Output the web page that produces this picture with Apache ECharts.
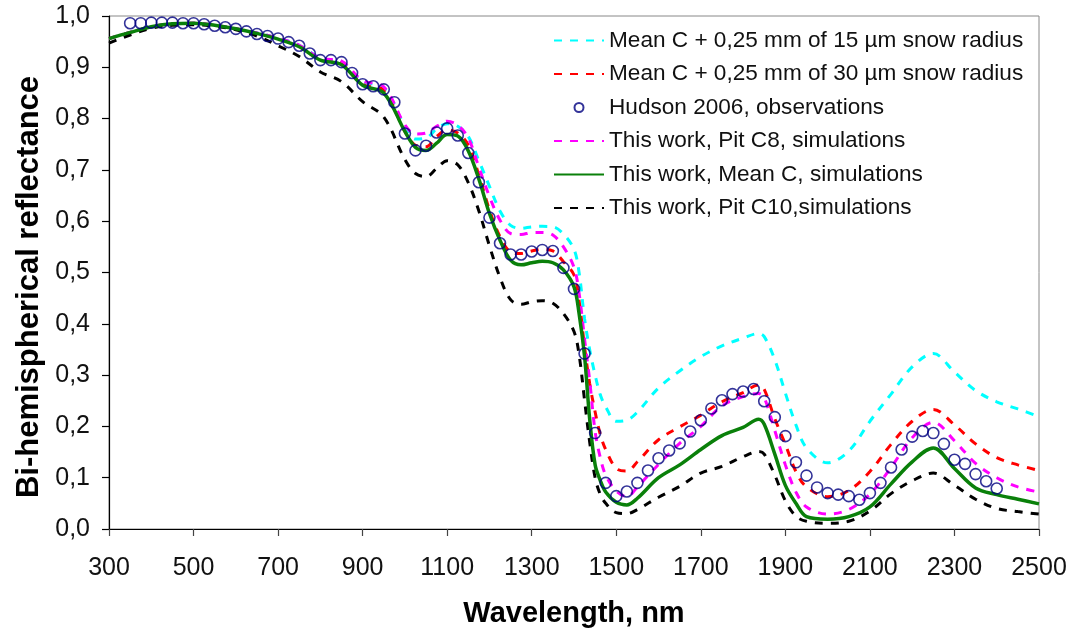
<!DOCTYPE html>
<html>
<head>
<meta charset="utf-8">
<script src="https://cdn.jsdelivr.net/npm/echarts@6/dist/echarts.min.js"></script>
<style>
html,body{margin:0;padding:0;background:#fff;}
#chart{width:1074px;height:635px;}
</style>
</head>
<body>
<div id="chart"></div>
<script>
// ---- Data ----
const xTicks = [300,500,700,900,1100,1300,1500,1700,1900,2100,2300,2500];
const yTicks = [0.0,0.1,0.2,0.3,0.4,0.5,0.6,0.7,0.8,0.9,1.0];

const seriesNames = [
  'Mean C + 0,25 mm of 15 µm snow radius',
  'Mean C + 0,25 mm of 30 µm snow radius',
  'Hudson 2006, observations',
  'This work, Pit C8, simulations',
  'This work, Mean C, simulations',
  'This work, Pit C10,simulations'
];

const simWl = [300,350,400,450,500,550,600,650,700,750,800,850,900,950,
  1000,1025,1050,1075,1100,1125,1150,1175,1200,1225,1250,1275,1300,1325,1350,1375,1400,
  1412,1425,1437,1450,1462,1475,
  1500,1525,1550,
  1600,1650,1700,1750,1800,
  1837,1850,1875,1900,1925,1950,
  2000,2050,2100,2150,2200,2250,2300,2350,2400,2450,2500];

const snow15 = [0.956,0.968,0.979,0.985,0.986,0.982,0.975,0.967,0.957,0.943,0.918,0.910,0.872,0.860,
  0.785,0.760,0.762,0.780,0.790,0.785,0.765,0.718,0.668,0.620,0.592,0.586,0.589,0.590,0.589,0.575,0.545,
  0.500,0.410,0.350,0.300,0.262,0.238,
  0.210,0.212,0.228,
  0.275,0.308,0.336,0.357,0.372,
  0.381,0.375,0.330,0.265,0.203,0.158,
  0.129,0.152,0.210,0.263,0.316,0.342,0.306,0.270,0.248,0.234,0.219];

const snow30 = [0.956,0.968,0.979,0.985,0.986,0.982,0.975,0.966,0.956,0.941,0.915,0.908,0.867,0.855,
  0.775,0.748,0.745,0.765,0.778,0.772,0.748,0.690,0.622,0.570,0.540,0.537,0.542,0.545,0.542,0.521,0.495,
  0.445,0.355,0.284,0.228,0.185,0.155,
  0.118,0.113,0.131,
  0.174,0.199,0.222,0.248,0.266,
  0.281,0.272,0.215,0.165,0.112,0.082,
  0.063,0.075,0.112,0.165,0.210,0.233,0.203,0.166,0.139,0.125,0.114];

const pitC8 = [0.956,0.968,0.979,0.985,0.986,0.982,0.975,0.967,0.957,0.943,0.918,0.912,0.874,0.862,
  0.788,0.770,0.772,0.785,0.795,0.787,0.762,0.705,0.648,0.602,0.576,0.574,0.578,0.578,0.573,0.550,0.510,
  0.460,0.370,0.290,0.190,0.140,0.105,
  0.074,0.063,0.082,
  0.126,0.167,0.200,0.240,0.258,
  0.264,0.256,0.192,0.125,0.072,0.043,
  0.029,0.038,0.068,0.120,0.178,0.208,0.172,0.128,0.100,0.082,0.072];

const meanC = [0.956,0.968,0.979,0.985,0.986,0.982,0.975,0.966,0.955,0.940,0.914,0.905,0.865,0.850,
  0.775,0.744,0.738,0.752,0.769,0.766,0.737,0.682,0.615,0.563,0.524,0.515,0.519,0.522,0.519,0.505,0.472,
  0.420,0.336,0.215,0.125,0.095,0.072,
  0.052,0.047,0.060,
  0.100,0.125,0.155,0.182,0.198,
  0.214,0.204,0.146,0.085,0.050,0.024,
  0.019,0.024,0.043,0.088,0.131,0.158,0.118,0.080,0.067,0.058,0.049];

const pitC10 = [0.947,0.963,0.976,0.982,0.983,0.980,0.973,0.961,0.942,0.921,0.891,0.872,0.833,0.803,
  0.720,0.693,0.687,0.703,0.718,0.710,0.675,0.620,0.552,0.490,0.447,0.438,0.443,0.445,0.440,0.420,0.385,
  0.340,0.251,0.170,0.100,0.068,0.050,
  0.032,0.030,0.038,
  0.062,0.083,0.109,0.122,0.141,
  0.151,0.146,0.105,0.055,0.025,0.015,
  0.011,0.015,0.035,0.069,0.094,0.109,0.085,0.058,0.040,0.034,0.029];

const obsWl = [350,375,400,425,450,475,500,525,550,575,600,625,650,675,700,725,750,775,800,825,
  850,875,900,925,950,975,1000,1025,1050,1075,1100,1125,1150,1175,1200,1225,1250,1275,1300,1325,
  1350,1375,1400,1425,1450,1475,1500,1525,1550,1575,1600,1625,1650,1675,1700,1725,1750,1775,1800,1825,
  1850,1875,1900,1925,1950,1975,2000,2025,2050,2075,2100,2125,2150,2175,2200,2225,2250,2275,2300,2325,
  2350,2375,2400];

const hudson = [0.986,0.986,0.987,0.987,0.987,0.986,0.986,0.984,0.981,0.978,0.975,0.970,0.965,0.961,0.956,0.949,0.942,0.927,0.914,0.914,
  0.910,0.889,0.867,0.863,0.857,0.832,0.771,0.738,0.747,0.773,0.781,0.767,0.733,0.676,0.607,0.557,0.535,0.535,0.541,0.544,
  0.542,0.509,0.468,0.342,0.187,0.090,0.064,0.073,0.090,0.114,0.138,0.153,0.167,0.190,0.212,0.235,0.251,0.263,0.268,0.273,
  0.249,0.218,0.181,0.130,0.104,0.081,0.070,0.067,0.064,0.057,0.070,0.090,0.120,0.155,0.180,0.191,0.187,0.166,0.135,0.127,
  0.107,0.093,0.079];

// ---- Build ----
const zip = (xs, ys) => xs.map((x, i) => [x, ys[i]]);
const FONT = 'Arial, "Liberation Sans", sans-serif';

function dashed(name, data, color) {
  return {
    name, type: 'line', data: zip(simWl, data), symbol: 'none', smooth: 0.35,
    lineStyle: { color, width: 3, type: [8, 8] }, itemStyle: { color }, z: 3
  };
}

const legendData = seriesNames.map((n, i) =>
  i === 2 ? { name: n } : { name: n, itemStyle: { opacity: 0 } });

const chart = echarts.init(document.getElementById('chart'), null, { renderer: 'canvas' });
chart.setOption({
  animation: false,
  backgroundColor: '#ffffff',
  grid: { left: 109, right: 35, top: 16, bottom: 106, show: true, borderColor: '#888', borderWidth: 1 },
  legend: {
    orient: 'vertical', left: 548, top: 24,
    itemWidth: 50, itemHeight: 9, itemGap: 10.5,
    data: legendData,
    textStyle: { fontFamily: FONT, fontSize: 22.6, color: '#111', lineHeight: 23 }
  },
  xAxis: {
    type: 'value', min: 300, max: 2500, interval: 200,
    name: 'Wavelength, nm', nameLocation: 'middle', nameGap: 70,
    nameTextStyle: { fontFamily: FONT, fontSize: 29, fontWeight: 'bold', color: '#000' },
    axisLine: { show: true, lineStyle: { color: '#000', width: 1.2 } },
    axisTick: { show: true, length: 7, lineStyle: { color: '#444', width: 1.2 } },
    axisLabel: { margin: 27, fontFamily: FONT, fontSize: 25, color: '#111',
      formatter: v => xTicks.includes(v) ? String(v) : '' },
    splitLine: { show: false }
  },
  yAxis: {
    type: 'value', min: 0, max: 1, interval: 0.1,
    axisLine: { show: true, lineStyle: { color: '#000', width: 1.2 } },
    axisTick: { show: true, length: 7, lineStyle: { color: '#000', width: 1.2 } },
    axisLabel: { margin: 19, fontFamily: FONT, fontSize: 25, color: '#111',
      formatter: v => {
        const t = yTicks.find(k => Math.abs(k - v) < 1e-6);
        return t === undefined ? '' : t.toFixed(1).replace('.', ',');
      } },
    splitLine: { show: false }
  },
  graphic: [{
    type: 'text', x: 29, y: 287, rotation: Math.PI / 2,
    style: { text: 'Bi-hemispherical reflectance', font: 'bold 31px ' + FONT, fill: '#000',
      textAlign: 'center', textVerticalAlign: 'middle' }
  }],
  series: [
    dashed(seriesNames[0], snow15, '#00FFFF'),
    dashed(seriesNames[1], snow30, '#FF0000'),
    dashed(seriesNames[3], pitC8, '#FF00FF'),
    dashed(seriesNames[5], pitC10, '#000000'),
    {
      name: seriesNames[4], type: 'line', data: zip(simWl, meanC), symbol: 'none', smooth: 0.35,
      lineStyle: { color: '#0A800A', width: 3.5 }, itemStyle: { color: '#0A800A' }, z: 4
    },
    {
      name: seriesNames[2], type: 'scatter', data: zip(obsWl, hudson),
      symbol: 'circle', symbolSize: 11,
      itemStyle: { color: 'transparent', borderColor: '#000080', borderWidth: 1.6 }, z: 5
    }
  ]
});
</script>
</body>
</html>
